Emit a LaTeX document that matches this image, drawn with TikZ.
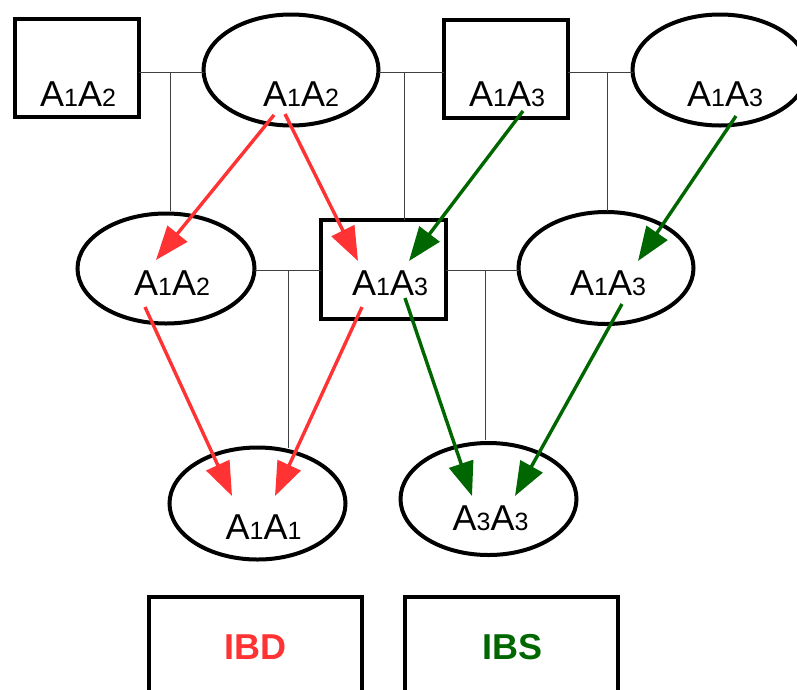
\documentclass[tikz,border=0pt]{standalone}
\usepackage{fontspec}
\setmainfont{Liberation Sans}
\usetikzlibrary{arrows.meta,shapes.geometric}
\definecolor{ibdred}{HTML}{FF3333}
\definecolor{ibsgreen}{HTML}{006600}
\newcommand\geno[2]{\fontsize{36}{40}\selectfont A{\fontsize{25}{28}\selectfont #1}A{\fontsize{25}{28}\selectfont #2}}
\begin{document}
\begin{tikzpicture}[x=1pt,y=-1pt,
  sq/.style={draw, line width=4pt, rectangle, inner sep=0pt, outer sep=0pt},
  ell/.style={draw, line width=4pt, ellipse, inner sep=0pt, outer sep=0pt},
  lbl/.style={anchor=base, inner sep=0pt},
  kin/.style={line width=1pt, black!75},
  ibd/.style={draw=ibdred, line width=3.4pt, -{Triangle[length=34pt,width=25pt]}},
  ibs/.style={draw=ibsgreen, line width=3.4pt, -{Triangle[length=34pt,width=25pt]}}]
\useasboundingbox (0,0) rectangle (797,689);
\fill[white] (0,0) rectangle (797,689);
\begin{scope}
\clip (0,0) rectangle (797,689);
% top row
\node[sq,  minimum width=124pt, minimum height=98pt]  (s1) at (76.5,67.5) {};
\node[ell, minimum width=175pt, minimum height=111pt] (e2) at (291,70) {};
\node[sq,  minimum width=124pt, minimum height=98pt]  (s3) at (505.5,68.5) {};
\node[ell, minimum width=175pt, minimum height=111pt] (e4) at (720,70) {};
% middle row
\node[ell, minimum width=177pt, minimum height=110pt] (eL) at (166,268.5) {};
\node[sq,  minimum width=125pt, minimum height=99pt]  (sM) at (383.5,269.5) {};
\node[ell, minimum width=175pt, minimum height=112pt] (eR) at (606,268) {};
% bottom row
\node[ell, minimum width=176pt, minimum height=112pt] (eA) at (257.5,503.5) {};
\node[ell, minimum width=176pt, minimum height=112pt] (eB) at (488.5,499) {};
% legend boxes
\node[sq, minimum width=213pt, minimum height=160pt] (bD) at (255,677) {};
\node[sq, minimum width=213pt, minimum height=160pt] (bS) at (511,677) {};
\end{scope}
% labels
\node[lbl] (t1) at (78,106) {\geno{1}{2}};
\node[lbl] (t2) at (301,106) {\geno{1}{2}};
\node[lbl] (t3) at (507,106) {\geno{1}{3}};
\node[lbl] (t4) at (725,106) {\geno{1}{3}};
\node[lbl] (tL) at (172,295) {\geno{1}{2}};
\node[lbl] (tM) at (390,295) {\geno{1}{3}};
\node[lbl] (tR) at (608,295) {\geno{1}{3}};
\node[lbl] (tA) at (263.5,539) {\geno{1}{1}};
\node[lbl] (tB) at (490.5,530) {\geno{3}{3}};
\node[lbl, text=ibdred]   (tD) at (255,659) {\fontsize{36}{40}\selectfont\bfseries IBD};
\node[lbl, text=ibsgreen] (tS) at (512,659) {\fontsize{36}{40}\selectfont\bfseries IBS};
% mating / descent lines
\coordinate (m1) at (170,72);
\coordinate (m2) at (404,72);
\coordinate (m3) at (607,72);
\coordinate (m4) at (288,270);
\coordinate (m5) at (485,270);
\draw[kin] (s1.east |- m1) -- (e2.west |- m1);
\draw[kin] (m1) -- (170,211);
\draw[kin] (e2.east |- m2) -- (s3.west |- m2);
\draw[kin] (m2) -- (sM.north -| m2);
\draw[kin] (s3.east |- m3) -- (e4.west |- m3);
\draw[kin] (m3) -- (607,211);
\draw[kin] (eL.east |- m4) -- (sM.west |- m4);
\draw[kin] (m4) -- (288,448);
\draw[kin] (sM.east |- m5) -- (eR.west |- m5);
\draw[kin] (m5) -- (485,440);
% IBD arrows
\coordinate (r1a) at (274,115); \coordinate (r1b) at (156,260);
\coordinate (r2a) at (285,114); \coordinate (r2b) at (358,261);
\coordinate (r3a) at (145,307); \coordinate (r3b) at (232,496);
\coordinate (r4a) at (362,307); \coordinate (r4b) at (275,496);
\draw[ibd] (r1a) -- (r1b);
\draw[ibd] (r2a) -- (r2b);
\draw[ibd] (r3a) -- (r3b);
\draw[ibd] (r4a) -- (r4b);
% IBS arrows
\coordinate (g1a) at (523,111); \coordinate (g1b) at (409,261);
\coordinate (g2a) at (736,116); \coordinate (g2b) at (638,261);
\coordinate (g3a) at (405,298); \coordinate (g3b) at (472,496);
\coordinate (g4a) at (622,304); \coordinate (g4b) at (515,496);
\draw[ibs] (g1a) -- (g1b);
\draw[ibs] (g2a) -- (g2b);
\draw[ibs] (g3a) -- (g3b);
\draw[ibs] (g4a) -- (g4b);
\end{tikzpicture}
\end{document}
